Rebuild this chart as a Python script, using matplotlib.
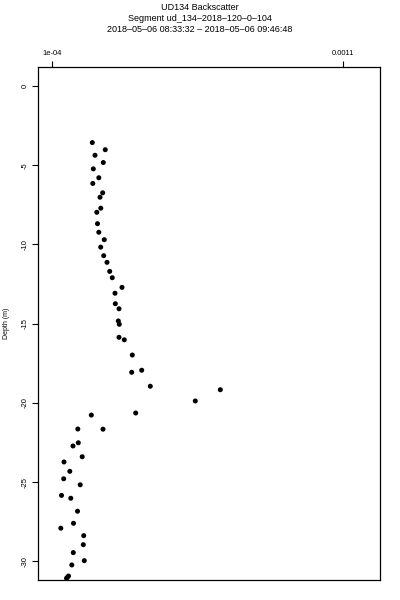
import matplotlib
matplotlib.use("Agg")
import matplotlib.pyplot as plt
import numpy as np

plt.rcParams['font.family'] = ['Liberation Sans', 'DejaVu Sans']

# backscatter values (units of 1e-6)
backscatter_e6 = [239.5, 284.0, 248.8, 277.3, 243.0, 261.9, 241.2, 275.2, 266.0, 268.7,
                  255.0, 257.4, 261.9, 280.7, 268.4, 278.7, 290.0, 299.3, 308.2, 341.6,
                  317.5, 318.6, 331.3, 328.9, 332.3, 331.3, 349.5, 377.0, 409.3, 374.9,
                  438.8, 679.4, 593.4, 388.6, 236.1, 189.7, 276.3, 191.4, 173.2, 204.8,
                  142.3, 162.2, 141.2, 197.9, 133.7, 165.6, 188.7, 174.9, 131.3, 210.0,
                  208.6, 174.2, 212.0, 169.1, 157.7, 154.3, 150.9]
depth = [-3.57, -4.02, -4.37, -4.83, -5.23, -5.79, -6.15, -6.74, -7.02, -7.71,
         -7.97, -8.69, -9.23, -9.70, -10.17, -10.71, -11.13, -11.70, -12.10, -12.71,
         -13.08, -13.74, -14.06, -14.83, -15.04, -15.86, -16.02, -16.98, -17.94, -18.07,
         -18.95, -19.17, -19.88, -20.64, -20.77, -21.65, -21.66, -22.52, -22.72, -23.40,
         -23.73, -24.32, -24.79, -25.17, -25.84, -26.02, -26.84, -27.60, -27.91, -28.38,
         -28.95, -29.45, -29.96, -30.23, -30.93, -31.00, -31.07]

x_ticks = [1e-4, 1.1e-3]
x_ticklabels = ["1e-04", "0.0011"]
y_ticks = [0, -5, -10, -15, -20, -25, -30]
y_ticklabels = ["0", "-5", "-10", "-15", "-20", "-25", "-30"]

title = "UD134 Backscatter\nSegment ud_134\u20132018\u2013120\u20130\u2013104\n2018\u201305\u201306 08:33:32 \u2013 2018\u201305\u201306 09:46:48"

bs = np.array(backscatter_e6) * 1e-6

fig = plt.figure(figsize=(4, 6), dpi=100)
ax = fig.add_axes([38/400, 1 - 580/600, (380-38)/400, (580-67)/600])
ax.scatter(bs, depth, s=13, c='black', edgecolors='none')

ax.set_xlim(52.9e-6, 1228.2e-6)
ax.set_ylim(-31.18, 1.2)

ax.xaxis.tick_top()
ax.set_xticks(x_ticks)
ax.set_xticklabels(x_ticklabels, fontsize=5.5)
ax.set_yticks(y_ticks)
ax.set_yticklabels(y_ticklabels, fontsize=5.5, rotation=90, va='center')
ax.tick_params(axis='both', length=4, width=0.8, pad=3, colors='black')
ax.set_ylabel("Depth (m)", fontsize=5, labelpad=8)
for s in ax.spines.values():
    s.set_linewidth(0.9)

fig.text(200/400, 1 - 2.5/600, title, ha='center', va='top', fontsize=6.5, linespacing=1.35)

fig.savefig("out.png", dpi=100)
